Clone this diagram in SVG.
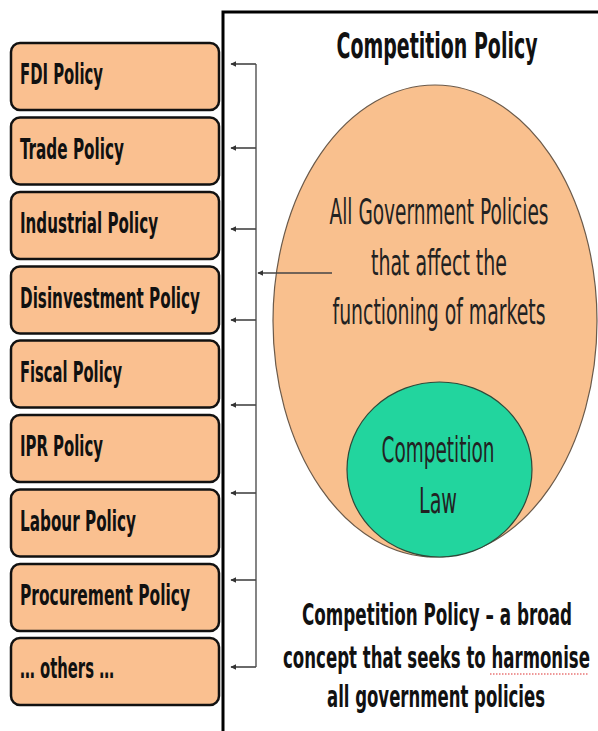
<svg xmlns="http://www.w3.org/2000/svg" width="598" height="731" viewBox="0 0 598 731">
  <defs>
    <marker id="head" viewBox="0 0 10 10" refX="1" refY="5" markerWidth="6" markerHeight="6" orient="auto" markerUnits="userSpaceOnUse">
      <path d="M10,0 L0,5 L10,10 Z" fill="#333"/>
    </marker>
    <style>
      .box { fill: #FAC090; stroke: #111; stroke-width: 2.5; }
      .lbl { font-family: "DejaVu Sans Condensed", "DejaVu Sans", sans-serif; font-weight: bold; font-size: 19px; fill: #111; }
      .arw { stroke: #444; stroke-width: 1.6; fill: none; marker-start: url(#head); }
      .big { font-family: "DejaVu Sans Condensed", "DejaVu Sans", sans-serif; font-size: 24px; fill: #222; text-anchor: middle; }
      .foot { font-family: "DejaVu Sans Condensed", "DejaVu Sans", sans-serif; font-weight: bold; font-size: 19px; fill: #111; text-anchor: middle; }
    </style>
  </defs>

  <rect x="0" y="0" width="598" height="731" fill="#fff"/>

  <!-- frame around the right-hand panel -->
  <path d="M223,731 V12 H598" fill="none" stroke="#000" stroke-width="3"/>

  <!-- policy boxes (labels stretched vertically for a tall, narrow face) -->
  <g id="fdi"><rect class="box" x="11" y="43" width="208" height="67" rx="9"/><text class="lbl" transform="translate(20 84) scale(1 1.45)" textLength="83" lengthAdjust="spacingAndGlyphs">FDI Policy</text></g>
  <g id="trade"><rect class="box" x="11" y="117.5" width="208" height="67" rx="9"/><text class="lbl" transform="translate(20 158.5) scale(1 1.45)" textLength="104" lengthAdjust="spacingAndGlyphs">Trade Policy</text></g>
  <g id="industrial"><rect class="box" x="11" y="192" width="208" height="67" rx="9"/><text class="lbl" transform="translate(20 233) scale(1 1.45)" textLength="138" lengthAdjust="spacingAndGlyphs">Industrial Policy</text></g>
  <g id="disinvestment"><rect class="box" x="11" y="266.5" width="208" height="67" rx="9"/><text class="lbl" transform="translate(20 307.5) scale(1 1.45)" textLength="180" lengthAdjust="spacingAndGlyphs">Disinvestment Policy</text></g>
  <g id="fiscal"><rect class="box" x="11" y="340.5" width="208" height="67" rx="9"/><text class="lbl" transform="translate(20 381.5) scale(1 1.45)" textLength="102" lengthAdjust="spacingAndGlyphs">Fiscal Policy</text></g>
  <g id="ipr"><rect class="box" x="11" y="415" width="208" height="67" rx="9"/><text class="lbl" transform="translate(20 456) scale(1 1.45)" textLength="83" lengthAdjust="spacingAndGlyphs">IPR Policy</text></g>
  <g id="labour"><rect class="box" x="11" y="489.5" width="208" height="67" rx="9"/><text class="lbl" transform="translate(20 530.5) scale(1 1.45)" textLength="116" lengthAdjust="spacingAndGlyphs">Labour Policy</text></g>
  <g id="procurement"><rect class="box" x="11" y="564" width="208" height="67" rx="9"/><text class="lbl" transform="translate(20 605) scale(1 1.45)" textLength="170" lengthAdjust="spacingAndGlyphs">Procurement Policy</text></g>
  <g id="others"><rect class="box" x="11" y="638" width="208" height="67" rx="9"/><text class="lbl" transform="translate(20 678) scale(1 1.45)" textLength="94" lengthAdjust="spacingAndGlyphs">… others …</text></g>

  <!-- title -->
  <g id="title">
    <text transform="translate(437 58) scale(1 1.37)" text-anchor="middle" font-family="DejaVu Sans Condensed, DejaVu Sans, sans-serif" font-weight="bold" font-size="26" fill="#111" textLength="201" lengthAdjust="spacingAndGlyphs">Competition Policy</text>
  </g>

  <!-- outer set: all government policies -->
  <g id="all-policies">
    <ellipse cx="435" cy="321" rx="162" ry="236" fill="#F9C08E" stroke="#6b5a4a" stroke-width="1.2"/>
    <text class="big" transform="translate(439 224) scale(1 1.45)" textLength="219" lengthAdjust="spacingAndGlyphs">All Government Policies</text>
    <text class="big" transform="translate(439 275) scale(1 1.45)" textLength="136" lengthAdjust="spacingAndGlyphs">that affect the</text>
    <text class="big" transform="translate(439 324) scale(1 1.45)" textLength="213" lengthAdjust="spacingAndGlyphs">functioning of markets</text>
  </g>

  <!-- inner set: competition law -->
  <g id="competition-law">
    <ellipse cx="439.5" cy="469.5" rx="92.5" ry="87.5" fill="#22D59E" stroke="#2d4a3a" stroke-width="1.2"/>
    <text class="big" transform="translate(438 462) scale(1 1.5)" fill="#123" textLength="113" lengthAdjust="spacingAndGlyphs">Competition</text>
    <text class="big" transform="translate(438 513) scale(1 1.5)" fill="#123" textLength="38" lengthAdjust="spacingAndGlyphs">Law</text>
  </g>

  <!-- caption -->
  <g id="caption">
    <text class="foot" transform="translate(437 625) scale(1 1.55)" textLength="270" lengthAdjust="spacingAndGlyphs">Competition Policy – a broad</text>
    <text class="foot" transform="translate(436.5 668) scale(1 1.55)" textLength="307" lengthAdjust="spacingAndGlyphs">concept that seeks to harmonise</text>
    <text class="foot" transform="translate(436 707) scale(1 1.55)" textLength="218" lengthAdjust="spacingAndGlyphs">all government policies</text>
    <line x1="490" y1="674" x2="589" y2="674" stroke="#d33" stroke-width="1.2" stroke-dasharray="1.5 1.5"/>
  </g>

  <!-- connectors -->
  <g id="connectors">
    <line x1="256" y1="64" x2="256" y2="667" stroke="#666" stroke-width="1.6"/>
    <path class="arw" d="M231,64 H256"/>
    <path class="arw" d="M231,148 H256"/>
    <path class="arw" d="M231,229 H256"/>
    <path class="arw" d="M231,320 H256"/>
    <path class="arw" d="M231,405 H256"/>
    <path class="arw" d="M231,493 H256"/>
    <path class="arw" d="M231,580 H256"/>
    <path class="arw" d="M231,667 H256"/>
    <path class="arw" d="M258,273 H332"/>
  </g>
</svg>
